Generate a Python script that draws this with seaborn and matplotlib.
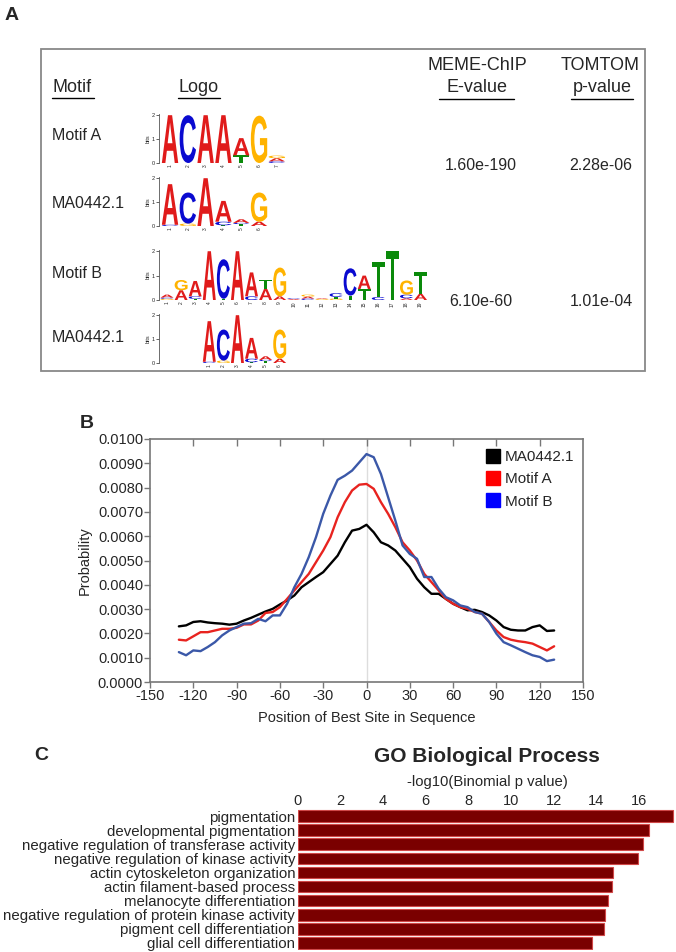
import matplotlib
matplotlib.use("Agg")
import matplotlib.pyplot as plt
from matplotlib.textpath import TextPath
from matplotlib.patches import PathPatch, Rectangle
from matplotlib.transforms import Affine2D
from matplotlib.font_manager import FontProperties
from matplotlib.lines import Line2D
from matplotlib.ticker import FormatStrFormatter
import seaborn as sns
import pandas as pd

sns.set_style("white")
plt.rcParams["font.family"] = ["Liberation Sans", "DejaVu Sans"]
plt.rcParams["axes.unicode_minus"] = False

# ---- panel A: table + logos ----
header_motif = "Motif"
header_logo = "Logo"
header_eval = ["MEME-ChIP", "E-value"]
header_pval = ["TOMTOM", "p-value"]
row_names = ["Motif A", "MA0442.1", "Motif B", "MA0442.1"]
e_values = ["1.60e-190", "6.10e-60"]
p_values = ["2.28e-06", "1.01e-04"]

# letter stacks per position, bottom to top (letter, bits)
motif_a_logo = [
    [("A", 2.0)], [("C", 2.0)], [("A", 2.0)], [("A", 2.0)],
    [("T", 0.32), ("A", 0.72)], [("G", 1.98)],
    [("C", 0.07), ("A", 0.13), ("G", 0.11)],
]
ma0442_logo = [
    [("C", 0.05), ("A", 1.70)], [("G", 0.10), ("C", 1.30)], [("A", 2.0)],
    [("T", 0.03), ("C", 0.15), ("A", 0.87)],
    [("T", 0.08), ("C", 0.05), ("A", 0.15)], [("A", 0.18), ("G", 1.22)],
]
motif_b_logo = [
    [("G", 0.05), ("C", 0.05), ("A", 0.12)], [("A", 0.40), ("G", 0.42)],
    [("T", 0.05), ("C", 0.10), ("A", 0.63)], [("A", 2.0)],
    [("T", 0.05), ("C", 1.62)], [("A", 2.0)], [("C", 0.15), ("A", 0.98)],
    [("A", 0.45), ("T", 0.38)], [("A", 0.15), ("G", 1.18)],
    [("A", 0.04), ("C", 0.03)], [("C", 0.06), ("A", 0.08), ("G", 0.08)],
    [("G", 0.04), ("A", 0.03)], [("G", 0.06), ("T", 0.07), ("C", 0.15)],
    [("T", 0.18), ("C", 1.12)], [("T", 0.45), ("A", 0.55)],
    [("C", 0.12), ("T", 1.45)], [("T", 2.0)],
    [("A", 0.07), ("C", 0.15), ("G", 0.58)], [("A", 0.25), ("T", 0.90)],
]
base_colors = {"A": "#e01b1b", "C": "#0a0ad0", "G": "#ffb300", "T": "#0a8a0a"}

# ---- panel B: positional distribution ----
positions = list(range(-130, 131, 5))
ma0442_prob = [0.00229, 0.00233, 0.00247, 0.00250, 0.00245, 0.00242, 0.00240, 0.00236,
               0.00240, 0.00253, 0.00264, 0.00277, 0.00290, 0.00301, 0.00319, 0.00336,
               0.00356, 0.00390, 0.00411, 0.00432, 0.00452, 0.00486, 0.00520, 0.00575,
               0.00623, 0.00630, 0.00647,
               0.00616, 0.00575, 0.00562, 0.00541, 0.00507, 0.00473, 0.00425, 0.00390,
               0.00363, 0.00363, 0.00342, 0.00322, 0.00308, 0.00295, 0.00297, 0.00288,
               0.00274, 0.00253, 0.00226, 0.00215, 0.00212, 0.00212, 0.00226, 0.00233,
               0.00210, 0.00212]
motif_a_prob = [0.00174, 0.00171, 0.00188, 0.00205, 0.00205, 0.00212, 0.00219, 0.00219,
                0.00223, 0.00237, 0.00237, 0.00253, 0.00284, 0.00288, 0.00308, 0.00342,
                0.00377, 0.00411, 0.00445, 0.00493, 0.00541, 0.00596, 0.00678, 0.00740,
                0.00788, 0.00812, 0.00815,
                0.00795, 0.00740, 0.00692, 0.00637, 0.00575, 0.00541, 0.00500, 0.00445,
                0.00411, 0.00377, 0.00342, 0.00322, 0.00308, 0.00301, 0.00288, 0.00281,
                0.00247, 0.00212, 0.00185, 0.00174, 0.00168, 0.00164, 0.00158, 0.00144,
                0.00130, 0.00147]
motif_b_prob = [0.00123, 0.00110, 0.00130, 0.00127, 0.00144, 0.00164, 0.00192, 0.00212,
                0.00226, 0.00240, 0.00242, 0.00260, 0.00250, 0.00274, 0.00274, 0.00322,
                0.00390, 0.00445, 0.00514, 0.00596, 0.00692, 0.00767, 0.00832, 0.00849,
                0.00870, 0.00904, 0.00938,
                0.00925, 0.00856, 0.00760, 0.00664, 0.00562, 0.00527, 0.00507, 0.00432,
                0.00432, 0.00384, 0.00349, 0.00336, 0.00315, 0.00308, 0.00288, 0.00281,
                0.00247, 0.00199, 0.00164, 0.00151, 0.00137, 0.00123, 0.00110, 0.00103,
                0.00086, 0.00092]
motif_names = ["MA0442.1", "Motif A", "Motif B"]
line_colors = ["#000000", "#e8231f", "#3b58a8"]
legend_colors = ["#000000", "#ff0000", "#0000ff"]

# ---- panel C: GO terms ----
go_terms = ["pigmentation", "developmental pigmentation",
            "negative regulation of transferase activity",
            "negative regulation of kinase activity",
            "actin cytoskeleton organization", "actin filament-based process",
            "melanocyte differentiation",
            "negative regulation of protein kinase activity",
            "pigment cell differentiation", "glial cell differentiation"]
go_values = [17.6, 16.5, 16.2, 15.98, 14.77, 14.73, 14.56, 14.42, 14.38, 13.81]

W, H = 676, 952
fig = plt.figure(figsize=(W / 100, H / 100), dpi=100)


def fx(x):
    return x / W


def fy(y):
    return 1 - y / H


def px_axes(left, top, right, bottom):
    return fig.add_axes([fx(left), fy(bottom), (right - left) / W, (bottom - top) / H])


def hline(x0, x1, y, color="black", lw=1.0):
    fig.add_artist(Line2D([fx(x0), fx(x1)], [fy(y), fy(y)], color=color, lw=lw,
                          transform=fig.transFigure))


logo_font = FontProperties(family="Liberation Sans", weight="bold")


def draw_logo(ax, stacks, first_pos, xlim, tick_labels):
    for i, stack in enumerate(stacks):
        pos = first_pos + i
        y0 = 0.0
        for letter, h in stack:
            tp = TextPath((0, 0), letter, size=1, prop=logo_font)
            bb = tp.get_extents()
            tr = (Affine2D().translate(-bb.x0, -bb.y0)
                  .scale(0.92 / bb.width, h / bb.height)
                  .translate(pos - 0.46, y0))
            ax.add_patch(PathPatch(tr.transform_path(tp), fc=base_colors[letter], lw=0))
            y0 += h
    ax.set_xlim(*xlim)
    ax.set_ylim(0, 2.05)
    ax.set_facecolor("none")
    for s in ["top", "right", "bottom"]:
        ax.spines[s].set_visible(False)
    ax.spines["left"].set_color("#555555")
    ax.spines["left"].set_linewidth(0.6)
    ax.set_yticks([0, 1, 2])
    ax.set_yticklabels(["0", "1", "2"])
    ax.tick_params(axis="y", length=2, width=0.5, labelsize=4, pad=1, left=True)
    ax.set_ylabel("bits", fontsize=4, labelpad=1)
    ax.set_xticks(range(first_pos, first_pos + len(stacks)))
    ax.set_xticklabels(tick_labels, rotation=90, fontsize=3.5)
    ax.tick_params(axis="x", length=0, pad=1)


# panel A frame and text
fig.text(fx(12), fy(15), "A", fontsize=14, fontweight="bold", ha="center", va="center")
fig.add_artist(Rectangle((fx(41), fy(371)), (645 - 41) / W, (371 - 49) / H, fill=False,
                         ec="#888888", lw=1.3, transform=fig.transFigure))
fig.text(fx(52), fy(88), header_motif, fontsize=13, ha="left", va="center")
hline(52, 94, 98)
fig.text(fx(199), fy(88), header_logo, fontsize=13, ha="center", va="center")
hline(178, 220, 98)
fig.text(fx(477), fy(65), header_eval[0], fontsize=13, ha="center", va="center")
fig.text(fx(477), fy(88), header_eval[1], fontsize=13, ha="center", va="center")
hline(439, 514, 99)
fig.text(fx(600), fy(65), header_pval[0], fontsize=13, ha="center", va="center")
fig.text(fx(602), fy(88), header_pval[1], fontsize=13, ha="center", va="center")
hline(571, 633, 99)
for name, y in zip(row_names, [135, 204, 273, 337]):
    fig.text(fx(52), fy(y), name, fontsize=11.5, ha="left", va="center")
for ev, pv, y in zip(e_values, p_values, [166, 302]):
    fig.text(fx(481), fy(y), ev, fontsize=11.5, ha="center", va="center")
    fig.text(fx(601), fy(y), pv, fontsize=11.5, ha="center", va="center")

ax1 = px_axes(159, 114, 287.5, 163)
draw_logo(ax1, motif_a_logo, 1, (0.38, 7.6), [str(i) for i in range(1, 8)])
ax2 = px_axes(159, 177, 287.5, 226)
draw_logo(ax2, ma0442_logo, 1, (0.38, 7.6), [str(i) for i in range(1, 7)])
ax3 = px_axes(159, 250, 429, 300)
draw_logo(ax3, motif_b_logo, 1, (0.43, 19.6), [str(i) for i in range(1, 20)])
ax4 = px_axes(159, 314, 429, 363)
draw_logo(ax4, ma0442_logo, 4, (0.43, 19.6), [str(i) for i in range(1, 7)])

# panel B
fig.text(fx(87), fy(423), "B", fontsize=14, fontweight="bold", ha="center", va="center")
axb = px_axes(150, 439, 583, 682)
df_b = pd.DataFrame({
    "position": positions * 3,
    "probability": ma0442_prob + motif_a_prob + motif_b_prob,
    "motif": [motif_names[0]] * len(positions) + [motif_names[1]] * len(positions)
    + [motif_names[2]] * len(positions),
})
axb.axvline(0, color="#dddddd", lw=1, zorder=0)
sns.lineplot(data=df_b, x="position", y="probability", hue="motif",
             hue_order=motif_names, palette=line_colors, linewidth=1.7,
             legend=False, ax=axb)
axb.set_xlim(-150, 150)
axb.set_ylim(0, 0.01)
axb.set_xticks(range(-150, 151, 30))
axb.set_yticks([i / 1000 for i in range(0, 11)])
axb.yaxis.set_major_formatter(FormatStrFormatter("%.4f"))
for s in axb.spines.values():
    s.set_color("#777777")
    s.set_linewidth(1.2)
axb.tick_params(axis="both", labelsize=10.5, length=4, width=1, color="#777777",
                direction="out", left=True, bottom=True, pad=1)
top = axb.secondary_xaxis("top")
top.set_xticks(range(-120, 150, 30))
top.tick_params(direction="in", length=5, width=1, color="#777777", labeltop=False)
top.spines["top"].set_visible(False)
axb.set_xlabel("Position of Best Site in Sequence", fontsize=10.5, labelpad=6)
axb.set_ylabel("Probability", fontsize=10.5, labelpad=4)
handles = [Line2D([], [], marker="s", linestyle="", color=c, markersize=10)
           for c in legend_colors]
axb.legend(handles, motif_names, loc="upper left", bbox_to_anchor=(0.76, 0.98),
           frameon=False, fontsize=11, handletextpad=0.3, labelspacing=0.55,
           handlelength=1.0, borderaxespad=0)

# panel C
fig.text(fx(41), fy(755), "C", fontsize=14, fontweight="bold", ha="center", va="center")
fig.text(fx(487), fy(757), "GO Biological Process", fontsize=15, fontweight="bold",
         ha="center", va="center")
fig.text(fx(487), fy(782), "-log10(Binomial p value)", fontsize=10.7, ha="center",
         va="center")
axc = px_axes(298, 809, 676, 950)
sns.barplot(x=go_values, y=go_terms, orient="h", color="#7a0000", edgecolor="#d04848",
            linewidth=0.8, width=0.82, saturation=1, ax=axc)
axc.set_xlim(0, 17.75)
axc.xaxis.tick_top()
axc.set_xticks(range(0, 17, 2))
axc.tick_params(axis="x", length=0, labelsize=10.5, pad=1)
axc.tick_params(axis="y", length=0, labelsize=10.8, pad=2)
for s in axc.spines.values():
    s.set_visible(False)
axc.set_xlabel("")
axc.set_ylabel("")

fig.savefig("out.png", dpi=100)
